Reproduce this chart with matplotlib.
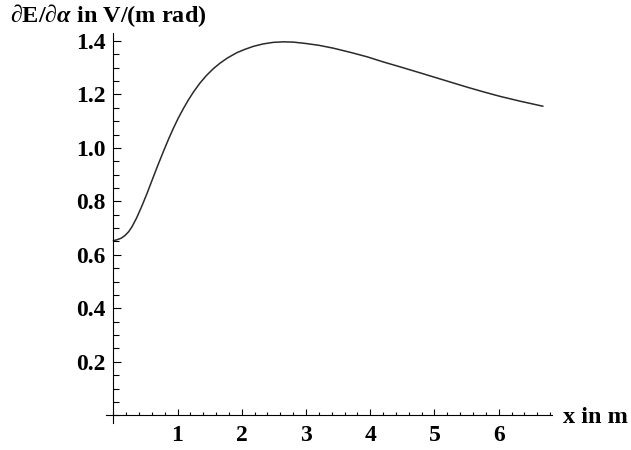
"""Mathematica-style derivative curve, redrawn with matplotlib."""

import matplotlib
matplotlib.use('Agg')
import matplotlib.pyplot as plt
import matplotlib.ticker

# Curve values.
x_m = [0.0, 0.05, 0.12, 0.18, 0.24, 0.29, 0.36, 0.44, 0.52, 0.60, 0.68,
       0.78, 0.86, 0.93, 1.01, 1.09, 1.17, 1.25, 1.35, 1.45, 1.55, 1.66,
       1.78, 1.92, 2.05, 2.18, 2.33, 2.49, 2.65, 2.80, 2.99, 3.2, 3.43, 3.7,
       3.95, 4.2, 4.47, 4.72, 4.98, 5.24, 5.5, 5.76, 6.02, 6.35, 6.69]
dE_dalpha = [0.653, 0.656, 0.662, 0.672, 0.687, 0.705, 0.737, 0.780, 0.827,
             0.877, 0.927, 0.987, 1.033, 1.071, 1.111, 1.147, 1.180, 1.210,
             1.243, 1.271, 1.295, 1.317, 1.337, 1.356, 1.369, 1.380, 1.389,
             1.395, 1.397, 1.396, 1.391, 1.384, 1.373, 1.357, 1.341, 1.322,
             1.303, 1.285, 1.266, 1.247, 1.228, 1.210, 1.193, 1.174, 1.156]
x_ticks = [1, 2, 3, 4, 5, 6]
y_ticks = [0.2, 0.4, 0.6, 0.8, 1.0, 1.2, 1.4]

plt.rcParams['mathtext.fontset'] = 'custom'
plt.rcParams['mathtext.rm'] = 'Liberation Serif:bold'
plt.rcParams['mathtext.it'] = 'Liberation Serif:italic:bold'
plt.rcParams['mathtext.bf'] = 'Liberation Serif:bold'

W, H = 631, 450
fig = plt.figure(figsize=(W / 100, H / 100), dpi=100)
# Axes box spans the drawn axis lines (pixels 106..552 wide, 33..423 tall).
ax = fig.add_axes([106 / W, (H - 423) / H, (552 - 106) / W, (423 - 33) / H])
ax.set_xlim(-0.114, 6.83)
ax.set_ylim(-0.029, 1.43)

ax.plot(x_m, dE_dalpha, color='#2a2a2a', lw=1.1, solid_capstyle='round',
        solid_joinstyle='round')

for side in ('top', 'right'):
    ax.spines[side].set_visible(False)
for side in ('left', 'bottom'):
    ax.spines[side].set_position(('data', 0))
    ax.spines[side].set_linewidth(0.8)

ax.xaxis.set_major_locator(matplotlib.ticker.FixedLocator(x_ticks))
ax.xaxis.set_minor_locator(matplotlib.ticker.MultipleLocator(0.2))
ax.yaxis.set_major_locator(matplotlib.ticker.FixedLocator(y_ticks))
ax.yaxis.set_minor_locator(matplotlib.ticker.MultipleLocator(0.05))
ax.xaxis.set_major_formatter(matplotlib.ticker.FormatStrFormatter('%d'))
ax.yaxis.set_major_formatter(matplotlib.ticker.FormatStrFormatter('%.1f'))

ax.tick_params(axis='x', which='major', direction='in', length=4, width=0.8,
               pad=7)
ax.tick_params(axis='x', which='minor', direction='in', length=2.2,
               width=0.8)
ax.tick_params(axis='y', which='major', direction='in', length=5.5,
               width=0.8, pad=5.5)
ax.tick_params(axis='y', which='minor', direction='in', length=4.5,
               width=0.8)

for label in ax.get_xticklabels() + ax.get_yticklabels():
    label.set_fontfamily('Liberation Serif')
    label.set_fontweight('bold')
    label.set_fontsize(17)

fig.text(10 / W, 1 - 16 / H, r'$\partial$E/$\partial\alpha$ in V/(m rad)',
         ha='left', va='center', fontsize=17.5,
         family='Liberation Serif', weight='bold')
fig.text(563 / W, 1 - 423 / H, 'x in m', ha='left', va='baseline',
         fontsize=17.5, family='Liberation Serif', weight='bold')

fig.savefig('out.png', dpi=100)
